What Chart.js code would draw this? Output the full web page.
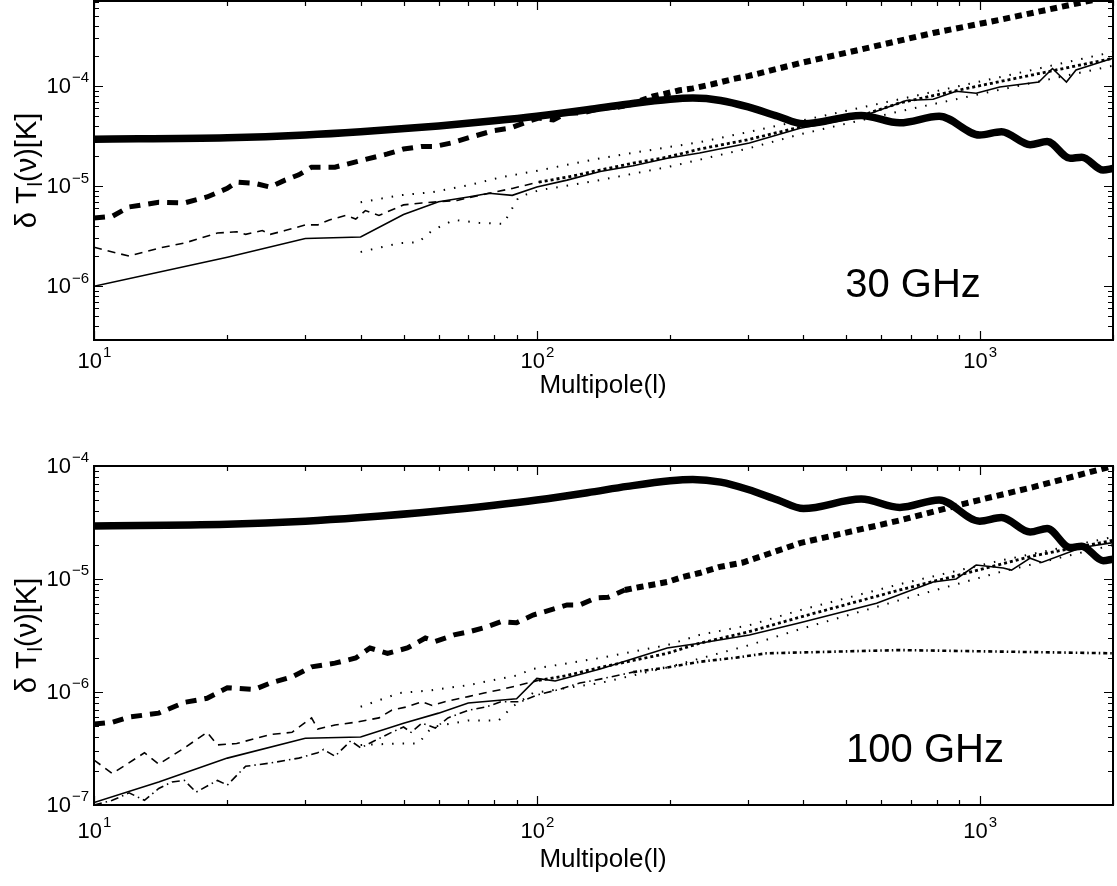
<!DOCTYPE html>
<html>
<head>
<meta charset="utf-8">
<script src="https://cdn.jsdelivr.net/npm/chart.js@4.4.1/dist/chart.umd.min.js"></script>
<style>
  html, body { margin: 0; padding: 0; background: #fff; }
  #wrap { position: relative; width: 1117px; height: 886px; }
  canvas { position: absolute; left: 0; }
  #top { top: 0; }
  #bottom { top: 420px; }
</style>
</head>
<body>
<div id="wrap">
  <canvas id="top" width="1117" height="420"></canvas>
  <canvas id="bottom" width="1117" height="466"></canvas>
</div>
<script>
// multipole range and tick labels
const xTicks = [10, 100, 1000];
const yTicksTop = [1e-6, 1e-5, 1e-4];
const yTicksBottom = [1e-7, 1e-6, 1e-5, 1e-4];

// CMB spectrum (same in both panels)
const lCmb = [10, 20, 30, 40, 60, 80, 100, 130, 160, 200, 225, 260, 300, 350, 400, 540, 660, 810, 1000, 1120, 1300, 1420, 1600, 1700, 1900, 2000];
const cmb = [2.95e-5, 3.05e-5, 3.25e-5, 3.5e-5, 4.0e-5, 4.5e-5, 5.0e-5, 5.8e-5, 6.6e-5, 7.4e-5, 7.6e-5, 7.2e-5, 6.2e-5, 5.0e-5, 4.2e-5, 5.1e-5, 4.3e-5, 5.0e-5, 3.25e-5, 3.5e-5, 2.6e-5, 2.8e-5, 1.9e-5, 1.95e-5, 1.45e-5, 1.5e-5];

// 30 GHz
const lNoise30 = [10, 11, 12, 14, 16, 18, 20, 21, 23, 25, 27, 29, 31, 35, 40, 46, 50, 55, 59, 64, 71, 80, 87, 95, 101, 109, 117, 127, 139, 152, 165, 183, 197, 210, 225, 250, 278, 300, 393, 556, 785, 1110, 1500, 2000];
const noise30 = [4.8e-6, 5.0e-6, 6.2e-6, 6.9e-6, 6.8e-6, 7.8e-6, 9.5e-6, 1.1e-5, 1.07e-5, 9.8e-6, 1.15e-5, 1.3e-5, 1.55e-5, 1.55e-5, 1.8e-5, 2.1e-5, 2.35e-5, 2.5e-5, 2.5e-5, 2.7e-5, 3.1e-5, 3.6e-5, 3.8e-5, 4.4e-5, 4.8e-5, 4.6e-5, 5.4e-5, 5.4e-5, 6.0e-5, 6.2e-5, 6.7e-5, 7.9e-5, 8.5e-5, 9.1e-5, 9.5e-5, 1.05e-4, 1.18e-4, 1.26e-4, 1.7e-4, 2.4e-4, 3.4e-4, 4.6e-4, 6.1e-4, 8.0e-4];
const lSolid30 = [10, 20, 30, 40, 50, 60, 70, 78, 88, 100, 117, 139, 165, 197, 233, 302, 393, 536, 683, 785, 885, 982, 1110, 1360, 1460, 1570, 1650, 2000];
const solid30 = [1.0e-6, 1.95e-6, 3.0e-6, 3.1e-6, 5.2e-6, 7.0e-6, 7.8e-6, 8.5e-6, 8.1e-6, 9.8e-6, 1.15e-5, 1.4e-5, 1.6e-5, 1.9e-5, 2.15e-5, 2.7e-5, 3.8e-5, 4.9e-5, 7.2e-5, 7.4e-5, 8.9e-5, 8.5e-5, 9.8e-5, 1.1e-4, 1.5e-4, 1.1e-4, 1.45e-4, 1.9e-4];
const lDash30 = [10, 12, 14, 16, 19, 21, 22, 24, 25, 27, 30, 32, 34, 37, 39, 41, 44, 50, 55, 66, 78, 88, 101, 117, 139, 165, 197, 233, 298, 393, 556, 660, 935, 1320, 2000];
const dash30 = [2.45e-6, 2.0e-6, 2.4e-6, 2.7e-6, 3.4e-6, 3.5e-6, 3.3e-6, 3.6e-6, 3.3e-6, 3.6e-6, 4.1e-6, 4.1e-6, 4.6e-6, 5.1e-6, 4.7e-6, 5.7e-6, 5.1e-6, 6.5e-6, 6.8e-6, 7.2e-6, 8.5e-6, 9.5e-6, 1.1e-5, 1.23e-5, 1.45e-5, 1.7e-5, 1.95e-5, 2.35e-5, 2.9e-5, 3.9e-5, 5.3e-5, 6.8e-5, 9.5e-5, 1.3e-4, 1.9e-4];
const lUpper30 = [40, 49, 58, 70, 83, 98, 139, 197, 233, 302, 393, 660, 1110, 2000];
const upper30 = [6.9e-6, 8.1e-6, 8.7e-6, 1.02e-5, 1.23e-5, 1.4e-5, 1.9e-5, 2.45e-5, 2.75e-5, 3.5e-5, 4.5e-5, 7.4e-5, 1.23e-4, 2.2e-4];
const lLower30 = [40, 49, 54, 58, 65, 74, 84, 87, 91, 101, 139, 197, 302, 393, 660, 1110, 2000];
const lower30 = [2.2e-6, 2.7e-6, 2.75e-6, 3.6e-6, 4.6e-6, 4.3e-6, 4.2e-6, 5.5e-6, 7.8e-6, 9.1e-6, 1.15e-5, 1.55e-5, 2.4e-5, 3.3e-5, 5.6e-5, 9.2e-5, 1.6e-4];

// 100 GHz
const lNoise100 = [10, 11, 12, 14, 16, 18, 20, 23, 25, 28, 31, 35, 39, 42, 46, 51, 56, 59, 65, 70, 76, 83, 90, 98, 107, 117, 125, 136, 145, 158, 171, 197, 213, 233, 259, 292, 393, 660, 935, 1320, 2000];
const noise100 = [5.2e-7, 5.4e-7, 6.0e-7, 6.5e-7, 8.1e-7, 8.8e-7, 1.09e-6, 1.05e-6, 1.2e-6, 1.36e-6, 1.67e-6, 1.8e-6, 2.0e-6, 2.45e-6, 2.2e-6, 2.45e-6, 3.0e-6, 2.8e-6, 3.2e-6, 3.4e-6, 3.7e-6, 4.2e-6, 4.1e-6, 4.8e-6, 5.3e-6, 5.9e-6, 5.9e-6, 6.8e-6, 6.9e-6, 8.0e-6, 8.5e-6, 9.4e-6, 1.04e-5, 1.13e-5, 1.28e-5, 1.4e-5, 2.08e-5, 3.3e-5, 4.7e-5, 6.5e-5, 1.0e-4];
const lSolid100 = [10, 14, 20, 30, 40, 50, 60, 70, 90, 100, 110, 139, 197, 233, 302, 393, 585, 785, 885, 982, 1130, 1180, 1300, 1380, 1700, 2000];
const solid100 = [1.05e-7, 1.6e-7, 2.6e-7, 3.9e-7, 4.0e-7, 5.3e-7, 6.5e-7, 8.0e-7, 8.7e-7, 1.32e-6, 1.25e-6, 1.6e-6, 2.45e-6, 2.7e-6, 3.2e-6, 4.1e-6, 6.1e-6, 9.4e-6, 1.0e-5, 1.33e-5, 1.25e-5, 1.2e-5, 1.53e-5, 1.4e-5, 1.9e-5, 2.1e-5];
const lDash100 = [10, 11, 13, 14, 16, 18, 19, 21, 25, 28, 31, 32, 35, 39, 44, 47, 51, 55, 58, 62, 70, 76, 83, 92, 101, 117, 139, 165, 197, 233, 300, 393, 660, 935, 1320, 2000];
const dash100 = [2.5e-7, 1.9e-7, 2.9e-7, 2.3e-7, 3.2e-7, 4.4e-7, 3.4e-7, 3.5e-7, 4.2e-7, 4.4e-7, 5.9e-7, 4.7e-7, 5.1e-7, 5.4e-7, 5.9e-7, 6.9e-7, 7.4e-7, 8.2e-7, 7.6e-7, 8.2e-7, 9.1e-7, 9.8e-7, 1.05e-6, 1.16e-6, 1.27e-6, 1.4e-6, 1.65e-6, 1.9e-6, 2.2e-6, 2.7e-6, 3.4e-6, 4.6e-6, 8.0e-6, 1.13e-5, 1.6e-5, 2.2e-5];
const lUpper100 = [40, 49, 57, 70, 90, 98, 139, 197, 233, 302, 393, 660, 1110, 2000];
const upper100 = [7.4e-7, 9.8e-7, 1.03e-6, 1.15e-6, 1.4e-6, 1.6e-6, 2.0e-6, 2.6e-6, 3.2e-6, 3.9e-6, 5.3e-6, 9.0e-6, 1.45e-5, 2.35e-5];
const lLower100 = [40, 49, 54, 58, 70, 82, 88, 98, 139, 197, 302, 393, 660, 1110, 2000];
const lower100 = [3.4e-7, 3.5e-7, 3.5e-7, 4.9e-7, 5.6e-7, 5.6e-7, 7.4e-7, 9.8e-7, 1.2e-6, 1.65e-6, 2.6e-6, 3.6e-6, 6.5e-6, 1.15e-5, 2.0e-5];
const lDashDot100 = [10, 11, 12, 13, 14, 15, 16, 17, 19, 20, 22, 25, 29, 32, 33, 35, 38, 40, 43, 47, 50, 52, 55, 59, 63, 70, 77, 83, 92, 100, 111, 125, 139, 165, 197, 233, 278, 330, 660, 2000];
const dashDot100 = [1.0e-7, 1.1e-7, 1.28e-7, 1.1e-7, 1.4e-7, 1.6e-7, 1.65e-7, 1.3e-7, 1.65e-7, 1.5e-7, 2.2e-7, 2.35e-7, 2.6e-7, 2.9e-7, 3.1e-7, 2.7e-7, 3.7e-7, 3.2e-7, 3.7e-7, 4.4e-7, 4.9e-7, 4.4e-7, 5.3e-7, 4.8e-7, 5.9e-7, 6.9e-7, 7.4e-7, 8.2e-7, 8.2e-7, 9.4e-7, 1.04e-6, 1.2e-6, 1.3e-6, 1.5e-6, 1.65e-6, 1.85e-6, 2.0e-6, 2.2e-6, 2.35e-6, 2.2e-6];

const FONT = '"Liberation Sans", Arial, Helvetica, sans-serif';
const pts = (ls, vs) => ls.map((l, i) => ({ x: l, y: vs[i] }));
const after = (lim, v) => c => (c.p0.parsed.x >= lim ? v : undefined);

function cmbSet() {
  return { data: pts(lCmb, cmb), borderWidth: 7.5, cubicInterpolationMode: 'monotone' };
}
function noiseSet(ls, vs) {
  return { data: pts(ls, vs), borderWidth: 5, borderDash: [11, 8],
           segment: { borderDash: after(150, [7, 5]), borderWidth: after(150, 6) } };
}
function solidSet(ls, vs) { return { data: pts(ls, vs), borderWidth: 1.6 }; }
function dashSet(ls, vs) {
  return { data: pts(ls, vs), borderWidth: 1.6, borderDash: [8, 6],
           segment: { borderDash: after(100, [3, 3]), borderWidth: after(100, 2.8) } };
}
function dotSet(ls, vs) { return { data: pts(ls, vs), borderWidth: 2, borderDash: [1.5, 9] }; }
function dashDotSet(ls, vs) {
  return { data: pts(ls, vs), borderWidth: 1.6, borderDash: [8, 4, 1.5, 4],
           segment: { borderDash: after(150, [4, 3, 1.5, 3]), borderWidth: after(150, 2.6) } };
}

function logMinor(min, max) {
  const out = [];
  for (let d = Math.floor(Math.log10(min)); d <= Math.ceil(Math.log10(max)); d++) {
    for (let m = 1; m <= 9; m++) {
      const v = m * Math.pow(10, d);
      if (v >= min * 0.999 && v <= max * 1.001) out.push({ v, major: m === 1 });
    }
  }
  return out;
}

function powLabel(ctx, x, y, exp, size, align) {
  const sup = Math.round(size * 0.66);
  ctx.font = size + 'px ' + FONT;
  const wb = ctx.measureText('10').width;
  ctx.font = sup + 'px ' + FONT;
  const we = ctx.measureText(exp).width;
  const x0 = align === 'right' ? x - wb - we : x - (wb + we) / 2;
  ctx.textAlign = 'left';
  ctx.textBaseline = 'middle';
  ctx.font = size + 'px ' + FONT;
  ctx.fillText('10', x0, y);
  ctx.font = sup + 'px ' + FONT;
  ctx.fillText(exp, x0 + wb + 1, y - size * 0.4);
}

function yTitle(ctx, cx, cy, size) {
  const sub = Math.round(size * 0.68);
  ctx.save();
  ctx.translate(cx, cy);
  ctx.rotate(-Math.PI / 2);
  ctx.textBaseline = 'middle';
  ctx.textAlign = 'left';
  ctx.font = size + 'px ' + FONT;
  const w1 = ctx.measureText('\u03b4 T').width, w3 = ctx.measureText('(\u03bd)[K]').width;
  ctx.font = sub + 'px ' + FONT;
  const w2 = ctx.measureText('l').width;
  let x = -(w1 + w2 + w3) / 2;
  ctx.font = size + 'px ' + FONT;
  ctx.fillText('\u03b4 T', x, 0); x += w1;
  ctx.font = sub + 'px ' + FONT;
  ctx.fillText('l', x, size * 0.3); x += w2;
  ctx.font = size + 'px ' + FONT;
  ctx.fillText('(\u03bd)[K]', x, 0);
  ctx.restore();
}

const frame = {
  id: 'frame',
  afterDraw(chart, args, o) {
    const { ctx, chartArea: a, scales: { x, y } } = chart;
    ctx.save();
    ctx.strokeStyle = '#000';
    ctx.fillStyle = '#000';
    ctx.lineWidth = 1.2;
    ctx.beginPath();
    for (const t of logMinor(x.min, x.max)) {
      const px = Math.round(x.getPixelForValue(t.v)) + 0.5;
      const len = t.major ? 9 : 5;
      ctx.moveTo(px, a.bottom); ctx.lineTo(px, a.bottom - len);
      ctx.moveTo(px, a.top); ctx.lineTo(px, a.top + len);
    }
    for (const t of logMinor(y.min, y.max)) {
      const py = Math.round(y.getPixelForValue(t.v)) + 0.5;
      const len = t.major ? 9 : 5;
      ctx.moveTo(a.left, py); ctx.lineTo(a.left + len, py);
      ctx.moveTo(a.right, py); ctx.lineTo(a.right - len, py);
    }
    ctx.stroke();
    ctx.lineWidth = 2;
    ctx.strokeRect(a.left, a.top, a.right - a.left, a.bottom - a.top);

    for (const v of xTicks) {
      powLabel(ctx, x.getPixelForValue(v), a.bottom + o.xLabelDy, String(Math.round(Math.log10(v))), 22, 'center');
    }
    for (const v of o.yTicks) {
      const e = Math.round(Math.log10(v));
      powLabel(ctx, a.left - 6, y.getPixelForValue(v) + 1, (e < 0 ? '\u2212' : '') + Math.abs(e), 22, 'right');
    }
    ctx.font = '26px ' + FONT;
    ctx.textAlign = 'center';
    ctx.textBaseline = 'middle';
    ctx.fillText('Multipole(l)', 603, a.bottom + o.xTitleDy);
    yTitle(ctx, 28, (a.top + a.bottom) / 2, 29);
    ctx.font = '40px ' + FONT;
    ctx.fillText(o.label, o.labelX, a.top + (a.bottom - a.top) * 0.84);
    ctx.restore();
  }
};

function panel(id, datasets, yMin, yMax, padTop, xHeight, opts) {
  return new Chart(document.getElementById(id), {
    type: 'line',
    data: { datasets },
    plugins: [frame],
    options: {
      responsive: false, animation: false, devicePixelRatio: 1,
      layout: { padding: { top: padTop, right: 4, left: 0, bottom: 0 } },
      elements: { point: { radius: 0 }, line: { borderColor: '#000', fill: false, tension: 0, borderCapStyle: 'butt' } },
      plugins: { legend: { display: false }, tooltip: { enabled: false }, frame: opts },
      scales: {
        x: { type: 'logarithmic', min: 10, max: 2000, ticks: { display: false }, grid: { display: false }, border: { display: false },
             afterFit(s) { s.height = xHeight; } },
        y: { type: 'logarithmic', min: yMin, max: yMax, ticks: { display: false }, grid: { display: false }, border: { display: false },
             afterFit(s) { s.width = 94; } }
      }
    }
  });
}

panel('top', [
  cmbSet(),
  noiseSet(lNoise30, noise30),
  solidSet(lSolid30, solid30),
  dashSet(lDash30, dash30),
  dotSet(lUpper30, upper30),
  dotSet(lLower30, lower30)
], 2.9e-7, 7.1e-4, 1, 80, { yTicks: yTicksTop, label: '30 GHz', labelX: 913, xLabelDy: 22, xTitleDy: 46 });

panel('bottom', [
  cmbSet(),
  noiseSet(lNoise100, noise100),
  solidSet(lSolid100, solid100),
  dashSet(lDash100, dash100),
  dotSet(lUpper100, upper100),
  dotSet(lLower100, lower100),
  dashDotSet(lDashDot100, dashDot100)
], 1e-7, 1e-4, 46, 81, { yTicks: yTicksBottom, label: '100 GHz', labelX: 925, xLabelDy: 27, xTitleDy: 55 });
</script>
</body>
</html>
